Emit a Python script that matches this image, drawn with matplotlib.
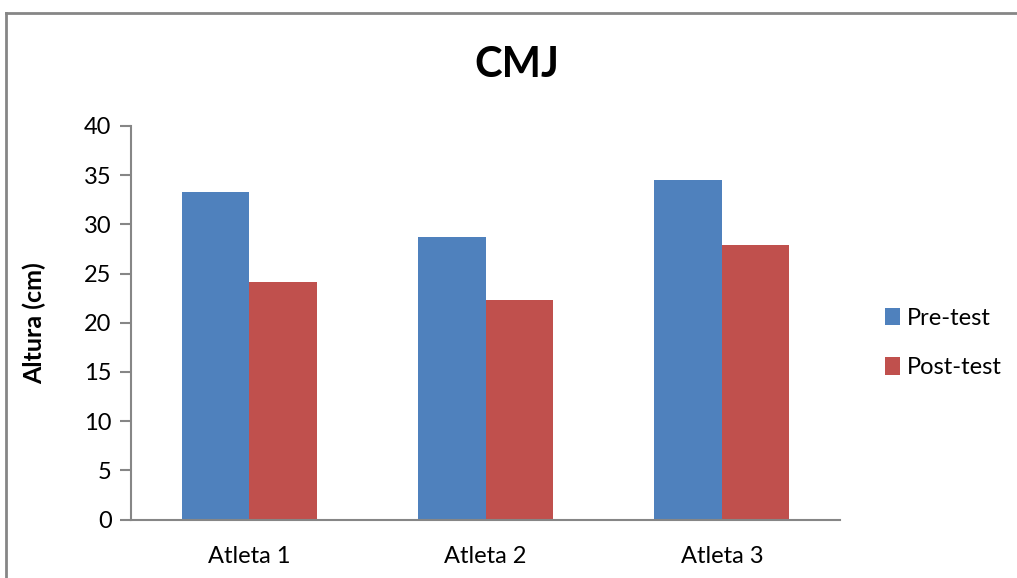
import matplotlib
matplotlib.use("Agg")
import matplotlib.pyplot as plt
import numpy as np
from matplotlib.lines import Line2D

# Jump height per athlete, before and after the program
athletes = ["Atleta 1", "Atleta 2", "Atleta 3"]
pre_test = [33.3, 28.7, 34.5]
post_test = [24.1, 22.3, 27.9]
series_names = ["Pre-test", "Post-test"]
y_ticks = [0, 5, 10, 15, 20, 25, 30, 35, 40]

BLUE = "#4F81BD"
RED = "#C0504D"
AXIS_GREY = "#868686"

plt.rcParams["font.family"] = ["Lato", "DejaVu Sans"]

W, H = 1017, 578
fig = plt.figure(figsize=(W / 100, H / 100), dpi=100)
ax = fig.add_axes([131 / W, 1 - 519.5 / H, (840 - 131) / W, (519.5 - 126) / H])

x = np.arange(len(athletes))
bw = 1 / 3.5
ax.bar(x - bw / 2, pre_test, bw, color=BLUE, label=series_names[0], zorder=2)
ax.bar(x + bw / 2, post_test, bw, color=RED, label=series_names[1], zorder=2)

ax.set_xlim(-0.5, len(athletes) - 0.5)
ax.set_ylim(0, 40)
ax.set_yticks(y_ticks)
ax.set_xticks(x)
ax.set_xticklabels(athletes)

for side in ("top", "right"):
    ax.spines[side].set_visible(False)
for side in ("left", "bottom"):
    ax.spines[side].set_color(AXIS_GREY)
    ax.spines[side].set_linewidth(1.5)

ax.tick_params(axis="y", direction="out", length=8, width=1.5, color=AXIS_GREY,
               labelsize=17, pad=6, labelcolor="black")
ax.tick_params(axis="x", length=0, labelsize=17, pad=19, labelcolor="black")

ax.set_ylabel("Altura (cm)", fontsize=18, fontweight="bold")
ax.yaxis.set_label_coords(-0.12, 0.5)

fig.text(517 / W, 1 - 65 / H, "CMJ", fontsize=30, fontweight="bold",
         ha="center", va="center")

leg = fig.legend(loc="center left", bbox_to_anchor=(876 / W, 1 - 343 / H),
                 frameon=False, fontsize=17, handlelength=0.6, handleheight=0.75,
                 handletextpad=0.3, labelspacing=1.2, borderaxespad=0)

# Chart area outline (top and left edges)
fig.add_artist(Line2D([6 / W, 1.0], [1 - 13 / H, 1 - 13 / H], transform=fig.transFigure,
                      color=AXIS_GREY, linewidth=2))
fig.add_artist(Line2D([6 / W, 6 / W], [1 - 13 / H, 0.0], transform=fig.transFigure,
                      color=AXIS_GREY, linewidth=2))

fig.savefig("out.png", dpi=100, facecolor="white")
